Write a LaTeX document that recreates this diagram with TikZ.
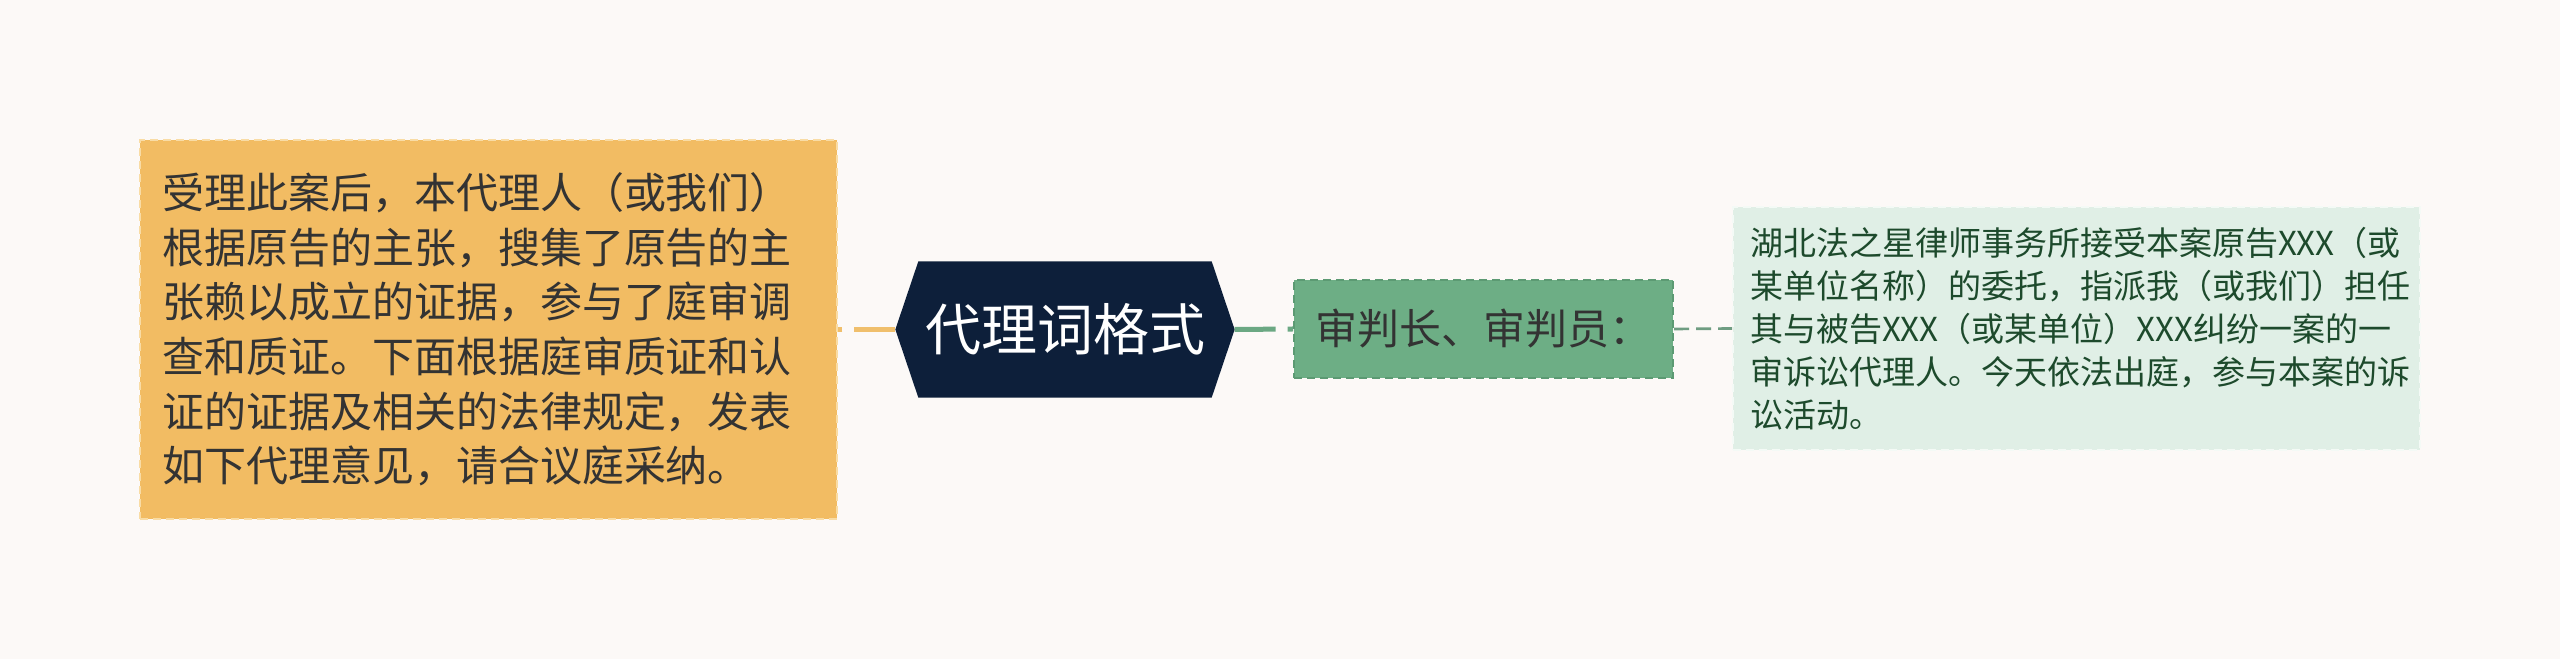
\documentclass[tikz,border=0pt]{standalone}
\usepackage{fontspec}
\newfontfamily\cjk{Noto Sans CJK SC}
\usetikzlibrary{backgrounds}
\definecolor{pagebg}{HTML}{FCF9F7}
\definecolor{introfill}{HTML}{F2BC63}
\definecolor{introedge}{HTML}{F9DCA5}
\definecolor{introlink}{HTML}{F0BF6C}
\definecolor{rootfill}{HTML}{0D1F3A}
\definecolor{judgefill}{HTML}{6DAE85}
\definecolor{judgeedge}{HTML}{5C9A73}
\definecolor{judgelink}{HTML}{6BA883}
\definecolor{detailfill}{HTML}{E0EFE6}
\definecolor{detailedge}{HTML}{F4FAF6}
\definecolor{detailtext}{HTML}{1D4A2C}
\definecolor{detaillink}{HTML}{6F9D82}
\definecolor{darktext}{HTML}{333333}
\tikzset{
  box/.style={rectangle, inner sep=0pt, line width=0.6pt, dash pattern=on 2.4pt off 1.5pt},
  introbox/.style={box, fill=introfill, draw=introedge, text=darktext,
    minimum width=209.1pt, minimum height=113.7pt, text width=195.9pt, align=left,
    font=\cjk\fontsize{12.6}{16.4}\selectfont},
  rootbox/.style={rectangle, inner sep=0pt, text=white,
    minimum width=101.4pt, minimum height=40.5pt,
    font=\cjk\fontsize{16.8}{20}\selectfont},
  judgebox/.style={box, fill=judgefill, draw=judgeedge, text=darktext,
    minimum width=113.7pt, minimum height=29.4pt,
    font=\cjk\fontsize{12.6}{16.4}\selectfont},
  detailbox/.style={box, fill=detailfill, draw=detailedge, text=detailtext,
    minimum width=206.1pt, minimum height=72.9pt, text width=195.9pt, align=left,
    font=\cjk\fontsize{9.9}{12.9}\selectfont},
  mainlink/.style={line width=1.5pt, dash pattern=on 12.3pt off 3.6pt},
  sublink/.style={line width=0.8pt, dash pattern=on 4.5pt off 2.1pt}
}

\begin{document}
\begin{tikzpicture}[x=0.3pt,y=-0.3pt]
   \useasboundingbox (0,0) rectangle (2560,659);

   \node[rootbox]   (root)   at (1065,329.5)  {代理词格式};
   \node[introbox]  (intro)  at (488.5,329.5) {受理此案后，本代理人（或我们）\\根据原告的主张，搜集了原告的主\\张赖以成立的证据，参与了庭审调\\查和质证。下面根据庭审质证和认\\证的证据及相关的法律规定，发表\\如下代理意见，请合议庭采纳。};
   \node[judgebox]  (judge)  at (1483.5,329)  {审判长、审判员：};
   \node[detailbox] (detail) at (2076.5,328.5) {湖北法之星律师事务所接受本案原告XXX（或\\某单位名称）的委托，指派我（或我们）担任\\其与被告XXX（或某单位）XXX纠纷一案的一\\审诉讼代理人。今天依法出庭，参与本案的诉\\讼活动。};

   \draw[mainlink,introlink] (root.west) -- (intro.east);
   \draw[mainlink,judgelink] (root.east) -- (judge.west);
   \draw[sublink,detaillink] (judge.east) -- (detail.west);

   \begin{scope}[on background layer]
    \fill[pagebg] (0,0) rectangle (2560,659);
    \fill[rootfill]
     (root.west) -- ([xshift=6.9pt]root.north west) -- ([xshift=-6.9pt]root.north east) --
     (root.east) -- ([xshift=-6.9pt]root.south east) -- ([xshift=6.9pt]root.south west) -- cycle;
   \end{scope}
\end{tikzpicture}
\end{document}
